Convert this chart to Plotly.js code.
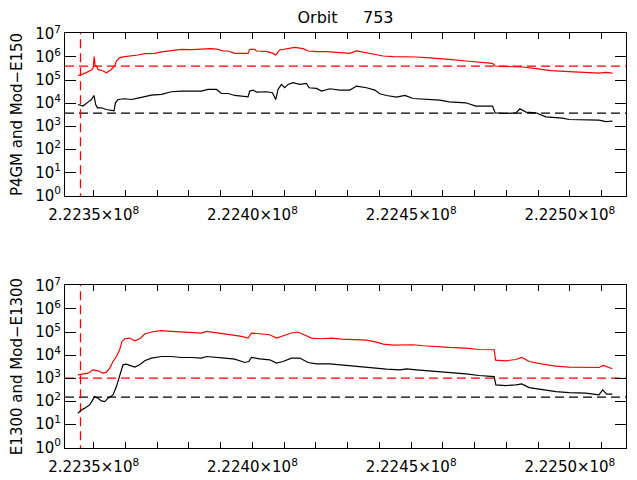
<!DOCTYPE html>
<html>
<head>
<meta charset="utf-8">
<script src="https://cdn.plot.ly/plotly-3.0.1.min.js"></script>
<style>
  body { margin: 0; background: #fff; }
  #myDiv { width: 637px; height: 480px; }
</style>
</head>
<body>
<div id="myDiv"></div>
<script>
// orbit 753 - top panel: P4GM (red) and Mod-E150 (black)
var topRedT = [222345050, 222347170, 222349280, 222349840, 222350160, 222350470, 222350850, 222351360, 222352930, 222354000,
  222355580, 222356620, 222357150, 222358190, 222359770, 222361880, 222363960, 222366070, 222369220, 222371330,
  222374480, 222377630, 222380780, 222384980, 222387090, 222389170, 222390740, 222392320, 222394430, 222396540,
  222398620, 222399160, 222400730, 222401260, 222404410, 222406490, 222407340, 222408600, 222410710, 222413330,
  222415950, 222417530, 222420180, 222423330, 222427530, 222430680, 222432790, 222435940, 222439090, 222441170,
  222444320, 222447470, 222451700, 222454850, 222459040, 222461970, 222467230, 222471420, 222475640, 222476460,
  222480870, 222485100, 222489290, 222494020, 222499720, 222504980, 222509170, 222511340, 222513390];
var topRedV = [1.58e5, 1.94e5, 2.72e5, 3.43e5, 1.03e6, 4.19e5, 4.06e5, 2.89e5, 2.46e5, 2.08e5,
  2.89e5, 4.06e5, 6.70e5, 9.33e5, 1.03e6, 1.10e6, 1.22e6, 1.39e6, 1.43e6, 1.65e6,
  1.82e6, 2.14e6, 2.08e6, 2.14e6, 2.30e6, 2.14e6, 1.82e6, 1.82e6, 1.43e6, 1.43e6,
  1.43e6, 2.14e6, 2.14e6, 1.82e6, 1.75e6, 1.43e6, 1.22e6, 2.01e6, 2.30e6, 2.61e6,
  2.30e6, 1.82e6, 1.70e6, 1.70e6, 1.54e6, 1.43e6, 1.82e6, 1.54e6, 1.30e6, 1.10e6,
  1.03e6, 1.03e6, 1.00e6, 9.33e5, 8.69e5, 7.87e5, 6.70e5, 6.06e5, 5.27e5, 4.06e5,
  3.90e5, 3.67e5, 3.10e5, 2.54e5, 2.30e5, 2.14e5, 2.01e5, 2.14e5, 2.01e5];

var topBlackT = [222345050, 222346630, 222348210, 222349280, 222350090, 222350630, 222351170, 222352430, 222354000, 222355580,
  222356400, 222356840, 222357660, 222359770, 222361880, 222363960, 222366070, 222368180, 222371330, 222374480,
  222377630, 222380780, 222383940, 222386020, 222388670, 222390240, 222392320, 222394430, 222396540, 222398620,
  222399160, 222400200, 222401260, 222404410, 222406300, 222407340, 222408060, 222409130, 222410170, 222411210,
  222412790, 222414910, 222417020, 222417850, 222420180, 222421760, 222424380, 222427530, 222430680, 222432790,
  222435940, 222438560, 222440130, 222442240, 222445390, 222448010, 222450630, 222454850, 222459040, 222461970,
  222467230, 222470380, 222475640, 222476460, 222479830, 222482980, 222484240, 222486140, 222489290, 222492440,
  222497700, 222499720, 222504980, 222509170, 222511340, 222513390];
var topBlackV = [8.69e3, 7.41e3, 1.10e4, 1.43e4, 2.14e4, 8.69e3, 6.25e3, 6.25e3, 5.27e3, 4.96e3,
  4.63e3, 1.03e4, 1.43e4, 1.54e4, 1.43e4, 1.65e4, 1.88e4, 2.23e4, 2.37e4, 3.10e4,
  3.32e4, 3.32e4, 3.32e4, 3.90e4, 3.90e4, 2.61e4, 2.61e4, 2.14e4, 2.01e4, 1.88e4,
  3.32e4, 3.67e4, 3.01e4, 3.10e4, 2.81e4, 1.43e4, 3.90e4, 6.44e4, 4.63e4, 6.44e4,
  7.63e4, 6.44e4, 7.11e4, 4.63e4, 4.31e4, 3.32e4, 4.19e4, 3.67e4, 3.67e4, 5.48e4,
  4.63e4, 3.67e4, 2.54e4, 2.14e4, 1.82e4, 2.14e4, 1.58e4, 1.43e4, 1.35e4, 1.14e4,
  1.03e4, 7.41e3, 7.41e3, 3.79e3, 3.53e3, 3.79e3, 5.65e3, 4.06e3, 3.79e3, 2.54e3,
  2.23e3, 1.94e3, 1.94e3, 1.82e3, 1.58e3, 1.65e3];

// bottom panel: E1300 (red) and Mod-E1300 (black)
var botRedT = [222345050, 222346630, 222348210, 222349780, 222351360, 222352930, 222354000, 222355040, 222356080, 222357150,
  222358190, 222358910, 222359770, 222361340, 222362920, 222364490, 222366070, 222368180, 222371330, 222374480,
  222377630, 222380780, 222383940, 222385510, 222388130, 222391280, 222394430, 222396540, 222398620, 222399690,
  222402300, 222405450, 222407560, 222409640, 222412280, 222414370, 222416490, 222418600, 222421760, 222424910,
  222428060, 222430680, 222432790, 222435940, 222439090, 222441170, 222444320, 222447470, 222450630, 222453780,
  222456930, 222459040, 222461970, 222467230, 222471420, 222476140, 222476590, 222479830, 222482980, 222484870,
  222487180, 222491400, 222495590, 222499720, 222504980, 222509170, 222510490, 222512380, 222513390];
var botRedV = [1.39e3, 1.49e3, 1.65e3, 2.30e3, 2.08e3, 1.65e3, 1.82e3, 2.72e3, 5.27e3, 8.69e3,
  1.70e4, 3.90e4, 5.11e4, 5.48e4, 4.19e4, 5.11e4, 8.19e4, 1.00e5, 1.14e5, 1.06e5,
  1.00e5, 9.61e4, 9.05e4, 1.06e5, 9.61e4, 8.44e4, 7.11e4, 6.44e4, 5.48e4, 9.05e4,
  8.19e4, 7.63e4, 5.48e4, 6.90e4, 9.05e4, 1.00e5, 7.63e4, 5.48e4, 5.11e4, 5.48e4,
  4.96e4, 4.77e4, 4.96e4, 4.49e4, 3.67e4, 3.01e4, 2.72e4, 2.72e4, 2.81e4, 2.54e4,
  2.37e4, 2.23e4, 2.14e4, 2.01e4, 1.75e4, 1.70e4, 6.06e3, 5.65e3, 6.44e3, 7.87e3,
  5.27e3, 4.06e3, 3.32e3, 3.01e3, 3.01e3, 2.89e3, 3.53e3, 2.72e3, 2.54e3];

var botBlackT = [222345050, 222346120, 222347170, 222348740, 222350320, 222351360, 222352430, 222353470, 222354510, 222356080,
  222357150, 222358190, 222359230, 222360300, 222361880, 222362920, 222364490, 222366070, 222368180, 222371330,
  222374480, 222377630, 222380780, 222383940, 222385510, 222388130, 222391280, 222394430, 222397580, 222398840,
  222399690, 222402300, 222405450, 222407560, 222409640, 222412280, 222414910, 222417530, 222420180, 222424380,
  222427530, 222430680, 222434870, 222439090, 222442240, 222446430, 222448550, 222451700, 222455890, 222459040,
  222461970, 222467230, 222471420, 222476140, 222476680, 222479830, 222482980, 222484870, 222487180, 222491400,
  222495590, 222499720, 222504980, 222509170, 222510300, 222511560, 222513390];
var botBlackV = [30, 42, 50, 69, 158, 135, 103, 96, 135, 188,
  431, 1170, 3790, 4060, 3530, 3010, 3790, 5650, 7410, 8690,
  8690, 7870, 7870, 7410, 8690, 7870, 7410, 6700, 4770, 5270,
  7870, 6900, 6250, 4490, 5270, 7410, 7410, 4770, 4190, 4190,
  3790, 3530, 3190, 2720, 2460, 2300, 2540, 2300, 2080, 1820,
  1750, 1540, 1300, 1170, 511, 477, 511, 565, 390, 310,
  261, 237, 223, 188, 310, 201, 201];

// threshold levels (dashed) and the start marker
var topRedLevel = [4.0e5, 4.0e5];
var topBlackLevel = [3.67e3, 3.67e3];
var botRedLevel = [1.0e3, 1.0e3];
var botBlackLevel = [150, 150];
var startTime = [222345840, 222345840];
var startSpan = [0.5, 2e7];

var xRange = [222340960, 222517675];
var xTickVals = [222350000, 222400000, 222450000, 222500000];
var xTickText = ['2.2235×10<sup>8</sup>', '2.2240×10<sup>8</sup>', '2.2245×10<sup>8</sup>', '2.2250×10<sup>8</sup>'];

var yTickVals = [1, 10, 100, 1e3, 1e4, 1e5, 1e6, 1e7];
var yTickText = ['10<sup>0</sup>', '10<sup>1</sup>', '10<sup>2</sup>', '10<sup>3</sup>',
  '10<sup>4</sup>', '10<sup>5</sup>', '10<sup>6</sup>', '10<sup>7</sup>'];

var dashed = '9px,5px';
function line(x, y, color, xa, ya, dash) {
  return { x: x, y: y, type: 'scatter', mode: 'lines', xaxis: xa, yaxis: ya,
    line: { color: color, width: dash ? 1.3 : 1.2, dash: dash || 'solid' }, hoverinfo: 'skip' };
}

var data = [
  line(xRange, topRedLevel, '#ff0000', 'x', 'y', dashed),
  line(xRange, topBlackLevel, 'black', 'x', 'y', dashed),
  line(startTime, startSpan, '#ff0000', 'x', 'y', dashed),
  line(topBlackT, topBlackV, 'black', 'x', 'y'),
  line(topRedT, topRedV, '#ff0000', 'x', 'y'),
  line(xRange, botRedLevel, '#ff0000', 'x2', 'y2', dashed),
  line(xRange, botBlackLevel, 'black', 'x2', 'y2', dashed),
  line(startTime, startSpan, '#ff0000', 'x2', 'y2', dashed),
  line(botBlackT, botBlackV, 'black', 'x2', 'y2'),
  line(botRedT, botRedV, '#ff0000', 'x2', 'y2')
];

var font = 'DejaVu Sans';
function xax(anchor) {
  return { anchor: anchor, range: xRange, tickmode: 'array', tickvals: xTickVals, ticktext: xTickText,
    ticks: 'inside', ticklen: 6, tickcolor: 'black', mirror: 'ticks', showline: true,
    linecolor: 'black', linewidth: 1, showgrid: false, zeroline: false, ticklabelstandoff: 5,
    minor: { tickmode: 'linear', tick0: 222350000, dtick: 10000, ticks: 'inside', ticklen: 6,
      tickcolor: 'black', showgrid: false },
    tickfont: { family: font, size: 15, color: 'black' } };
}
function yax(anchor, dom, label) {
  return { anchor: anchor, domain: dom, type: 'log', range: [-0.03, 7.04], tickmode: 'array',
    tickvals: yTickVals, ticktext: yTickText, ticks: 'inside', ticklen: 11, tickcolor: 'black',
    mirror: 'ticks', showline: true, linecolor: 'black', linewidth: 1, showgrid: false, zeroline: false,
    tickfont: { family: font, size: 15, color: 'black' },
    title: { text: label, font: { family: font, size: 15, color: 'black' }, standoff: 8 } };
}

var layout = {
  width: 637, height: 480,
  margin: { l: 65, r: 11, t: 33, b: 32 },
  paper_bgcolor: 'white', plot_bgcolor: 'white',
  showlegend: false,
  title: { text: 'Orbit\u00a0\u00a0\u00a0\u00a0\u00a0753', font: { family: font, size: 16, color: 'black' },
    x: 0.5, xref: 'paper', y: 1 - 17.5 / 480, yanchor: 'middle' },
  xaxis: xax('y'),
  xaxis2: xax('y2'),
  yaxis: yax('x', [0.6072, 1], 'P4GM and Mod−E150'),
  yaxis2: yax('x2', [0, 0.3928], 'E1300 and Mod−E1300')
};

Plotly.newPlot('myDiv', data, layout, { displayModeBar: false, staticPlot: true });
</script>
</body>
</html>
